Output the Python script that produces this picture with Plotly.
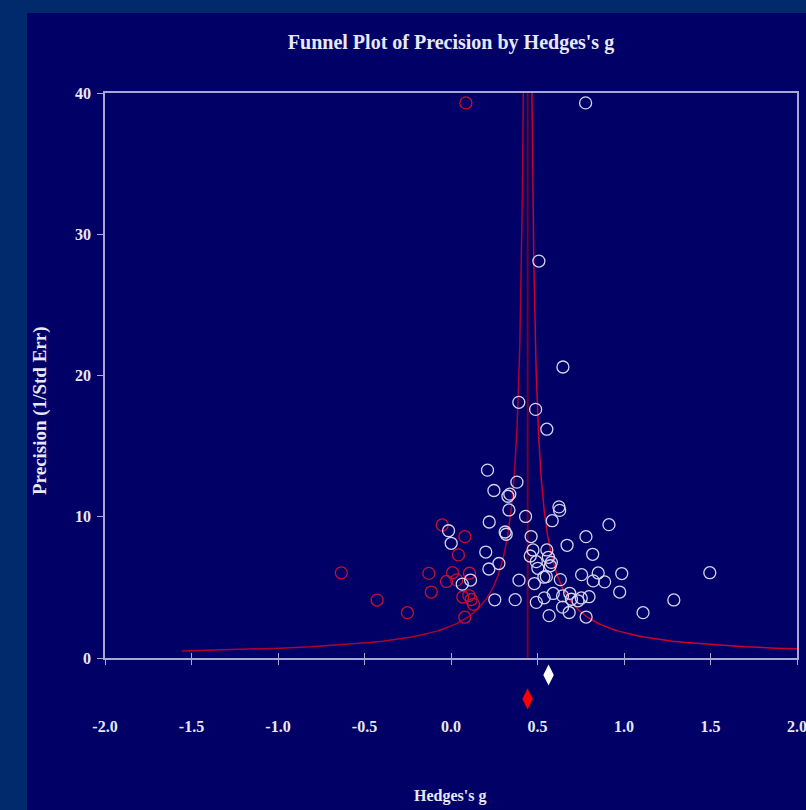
import numpy as np
import plotly.graph_objects as go

# ---------------- data ----------------
obs_g = [0.778, 0.508, 0.647, 0.392, 0.489, 0.554, 0.211, 0.381, 0.248, 0.329,
         0.340, 0.335, 0.624, 0.628, 0.585, 0.431, 0.221, 0.913, -0.014, 0.313,
         0.319, 0.001, 0.463, 0.671, 0.780, 0.819, 0.201, 0.474, 0.458, 0.554,
         0.563, 0.277, 0.219, 0.502, 0.493, 0.574, 0.580, 0.755, 0.851, 0.987,
         0.537, 0.551, 0.632, 0.393, 0.482, 0.822, 0.888, 0.113, 0.065, 0.975,
         0.253, 0.371, 0.493, 0.539, 0.591, 0.645, 0.686, 0.696, 0.734, 0.753,
         0.798, 0.645, 0.683, 0.567, 0.781, 1.110, 1.288, 1.496]
obs_prec = [39.3, 28.1, 20.6, 18.1, 17.6, 16.2, 13.3, 12.45, 11.86, 11.45,
            11.6, 10.48, 10.7, 10.45, 9.72, 10.02, 9.63, 9.44, 9.01, 8.92,
            8.76, 8.12, 8.6, 7.98, 8.59, 7.34, 7.5, 7.65, 7.22, 7.65,
            7.13, 6.69, 6.3, 6.35, 6.82, 6.53, 6.77, 5.9, 6.02, 5.98,
            5.72, 5.76, 5.55, 5.51, 5.27, 5.46, 5.39, 5.52, 5.23, 4.67,
            4.12, 4.13, 3.94, 4.26, 4.57, 4.40, 4.58, 4.16, 4.05, 4.25,
            4.34, 3.6, 3.22, 3.0, 2.9, 3.21, 4.11, 6.04]

imp_g = [0.086, -0.051, 0.080, 0.043, -0.634, -0.128, 0.009, 0.107, -0.026,
         0.033, -0.114, -0.427, 0.068, 0.103, 0.117, 0.130, -0.252, 0.080]
imp_prec = [39.3, 9.42, 8.59, 7.3, 6.03, 5.99, 6.04, 6.0, 5.42,
            5.53, 4.67, 4.1, 4.32, 4.42, 4.14, 3.80, 3.21, 2.89]

observed_mean = 0.564
adjusted_mean = 0.443
diamond_rows = [-1.2, -2.9]          # rows below the axis for the two summary diamonds
funnel_k = 1.0
funnel_prec = np.linspace(0.5, 40, 400)

x_ticks = [-2.0, -1.5, -1.0, -0.5, 0.0, 0.5, 1.0, 1.5, 2.0]
y_ticks = [0, 10, 20, 30, 40]

# ---------------- style ----------------
OUTER = "#002a6c"
INNER = "#000066"
FRAME = "#a8a8d8"
TXT = "#e8e8f8"
WHITE_C = "#d4d4f0"
RED_C = "#c8102e"
FONT = "Liberation Serif, Times New Roman, serif"

W, H = 806, 810
L, R, T, B = 105, 9, 93, 98
PW, PH = W - L - R, H - T - B
AXIS_PY = 658            # pixel row of precision = 0
UNIT = (AXIS_PY - T) / 40.0


def px2x(px):
    return (px - L) / PW


def py2y(py):
    return (H - B - py) / PH


main_dom = [py2y(AXIS_PY), 1.0]
diam_dom = [0.0, py2y(AXIS_PY + 4)]
diam_range = [-(H - B - AXIS_PY) / UNIT, -4 / UNIT]

fig = go.Figure()

# funnel curves
fig.add_trace(go.Scatter(x=adjusted_mean - funnel_k / funnel_prec, y=funnel_prec,
                         mode="lines", line=dict(color="#b0002c", width=1.5),
                         hoverinfo="skip"))
fig.add_trace(go.Scatter(x=adjusted_mean + funnel_k / funnel_prec, y=funnel_prec,
                         mode="lines", line=dict(color="#cc002a", width=1.5),
                         hoverinfo="skip"))
# vertical line at adjusted mean
fig.add_trace(go.Scatter(x=[adjusted_mean, adjusted_mean], y=[0, 40],
                         mode="lines", line=dict(color="#6e0032", width=2),
                         hoverinfo="skip"))

# studies
fig.add_trace(go.Scatter(x=imp_g, y=imp_prec, mode="markers",
                         marker=dict(symbol="circle-open", size=12,
                                     color=RED_C, line=dict(width=1.3, color=RED_C))))
fig.add_trace(go.Scatter(x=obs_g, y=obs_prec, mode="markers",
                         marker=dict(symbol="circle-open", size=12,
                                     color=WHITE_C, line=dict(width=1.3, color=WHITE_C))))

# summary diamonds (separate strip below the axis)
fig.add_trace(go.Scatter(x=[observed_mean, adjusted_mean], y=diamond_rows,
                         xaxis="x", yaxis="y3", mode="markers",
                         marker=dict(symbol="diamond-tall", size=15,
                                     color=["#ffffff", "#ff0000"],
                                     line=dict(width=0))))

# inner panel
fig.add_shape(type="rect", xref="paper", yref="paper",
              x0=px2x(27), x1=px2x(W + 2), y0=py2y(H + 2), y1=py2y(13),
              fillcolor=INNER, line=dict(width=0), layer="below")

axis_font = dict(family=FONT, size=16, color=TXT, weight="bold")

fig.update_layout(
    width=W, height=H,
    margin=dict(l=L, r=R, t=T, b=B),
    paper_bgcolor=OUTER, plot_bgcolor=INNER,
    showlegend=False,
    title=dict(text="Funnel Plot of Precision by Hedges's g",
               x=px2x(451), xref="paper", xanchor="center",
               y=1 - 42 / H, yref="container", yanchor="middle",
               font=dict(family=FONT, size=20, color=TXT, weight="bold")),
    xaxis=dict(range=[-2, 2], tickvals=x_ticks,
               ticktext=[f"{v:.1f}" for v in x_ticks], anchor="y",
               showgrid=False, zeroline=False, showline=True, mirror=True,
               linecolor=FRAME, linewidth=1.5, ticks="outside", ticklen=5,
               tickcolor=FRAME, tickwidth=1, ticklabelstandoff=48,
               ticklabeloverflow="allow",
               tickfont=axis_font, fixedrange=True, automargin=False),
    xaxis2=dict(range=[-2, 2], tickvals=x_ticks, overlaying="x", side="bottom",
                showticklabels=False, showgrid=False, zeroline=False,
                ticks="inside", ticklen=5, tickcolor=FRAME, tickwidth=1,
                anchor="y", automargin=False),
    yaxis=dict(range=[0, 40], tickvals=y_ticks, domain=main_dom,
               showgrid=False, zeroline=False, showline=True, mirror=True,
               linecolor=FRAME, linewidth=1.5, ticks="outside", ticklen=6,
               tickcolor=FRAME, tickwidth=1, ticklabelstandoff=3,
               ticklabeloverflow="allow",
               tickfont=axis_font, fixedrange=True, automargin=False),
    yaxis3=dict(range=diam_range, domain=diam_dom, visible=False,
                showgrid=False, zeroline=False, fixedrange=True,
                automargin=False, anchor="x"),
    annotations=[
        dict(text="Precision (1/Std Err)", xref="paper", yref="paper",
             x=px2x(40), y=py2y(411), textangle=-90, showarrow=False,
             xanchor="center", yanchor="middle",
             font=dict(family=FONT, size=19, color=TXT, weight="bold")),
        dict(text="Hedges's g", xref="paper", yref="paper",
             x=px2x(450), y=py2y(796), showarrow=False,
             xanchor="center", yanchor="middle",
             font=dict(family=FONT, size=16, color=TXT, weight="bold")),
    ],
)

# dummy trace to activate xaxis2 ticks
fig.add_trace(go.Scatter(x=[None], y=[None], xaxis="x2", yaxis="y",
                         showlegend=False, hoverinfo="skip"))

fig.write_html("out.html")
